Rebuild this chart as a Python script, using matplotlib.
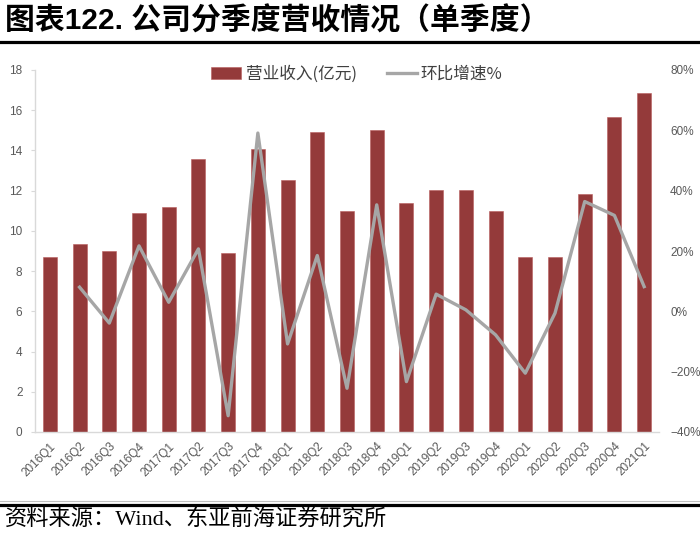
import numpy as np
import matplotlib
matplotlib.use('Agg')
import matplotlib.pyplot as plt
from matplotlib.lines import Line2D
from matplotlib.ticker import FuncFormatter

plt.rcParams['font.family'] = ['Liberation Sans', 'Noto Sans CJK SC', 'DejaVu Sans']
plt.rcParams['axes.unicode_minus'] = False

# data
quarters = ['2016Q1', '2016Q2', '2016Q3', '2016Q4',
            '2017Q1', '2017Q2', '2017Q3', '2017Q4',
            '2018Q1', '2018Q2', '2018Q3', '2018Q4',
            '2019Q1', '2019Q2', '2019Q3', '2019Q4',
            '2020Q1', '2020Q2', '2020Q3', '2020Q4', '2021Q1']
revenue = [8.72, 9.33, 9.00, 10.88, 11.20, 13.56, 8.89, 14.08,
           12.55, 14.90, 11.00, 15.00, 11.38, 12.02, 12.02, 11.00,
           8.72, 8.68, 11.82, 15.64, 16.88]
qoq = [np.nan, 8.0, -3.9, 21.7, 3.0, 20.7, -34.6, 59.1,
       -10.8, 18.5, -25.5, 35.3, -23.3, 5.7, 0.5, -7.8,
       -20.5, -0.6, 36.4, 31.8, 8.2]

bar_color = '#943a3a'
line_color = '#a6a6a6'
tick_color = '#595959'
spine_color = '#d9d9d9'

fig = plt.figure(figsize=(7, 5.33), dpi=100)
W, H = 700, 533

# title and top rule
fig.text(5 / W, 1 - 21 / H, '图表122. 公司分季度营收情况（单季度）',
         fontsize=21.5, fontweight='bold', color='black', va='center', ha='left')
fig.add_artist(Line2D([0, 1], [1 - 41.5 / H] * 2, color='black', lw=2.3))

ax = fig.add_axes([35 / W, 101 / H, 624 / W, 362 / H])
x = np.arange(len(quarters))
bars = ax.bar(x, revenue, width=0.47, color=bar_color, edgecolor='#b85c5c', lw=0.4,
              label='营业收入(亿元)', zorder=2)
ax.set_xlim(-0.5, len(quarters) - 0.5)
ax.set_ylim(0, 18)
ax.set_yticks(np.arange(0, 19, 2))
ax.set_xticks(x)
ax.set_xticklabels(quarters, rotation=45, ha='right', rotation_mode='anchor',
                   fontsize=8.5, color=tick_color)
ax.tick_params(axis='x', length=0, pad=6)
ax.tick_params(axis='y', length=3, color=spine_color, labelsize=8.5,
               labelcolor=tick_color, pad=6)
for s in ['top', 'right']:
    ax.spines[s].set_visible(False)
for s in ['left', 'bottom']:
    ax.spines[s].set_color(spine_color)
    ax.spines[s].set_linewidth(1.0)

ax2 = ax.twinx()
line, = ax2.plot(x, qoq, color=line_color, lw=2.4, label='环比增速%', zorder=3)
ax2.set_ylim(-40, 80)
ax2.set_yticks(np.arange(-40, 81, 20))
ax2.yaxis.set_major_formatter(FuncFormatter(lambda v, p: f'{v:.0f}%'.replace('-', '−')))
ax2.tick_params(axis='y', length=0, labelsize=8.5, labelcolor=tick_color, pad=8)
for s in ax2.spines.values():
    s.set_visible(False)

fig.legend(handles=[bars, line], labels=['营业收入(亿元)', '环比增速%'],
           loc='center', bbox_to_anchor=(357 / W, 1 - 74 / H), ncol=2,
           frameon=False, handlelength=1.8, handletextpad=0.25,
           columnspacing=1.8, labelcolor='#404040',
           prop={'family': ['Noto Sans CJK SC', 'DejaVu Sans'], 'size': 12})

# bottom rules and source
fig.add_artist(Line2D([0, 1], [1 - 501 / H] * 2, color='#bfbfbf', lw=0.8))
fig.add_artist(Line2D([0, 1], [1 - 504.5 / H] * 2, color='black', lw=2.3))
fig.text(5 / W, 1 - 520 / H, '资料来源：Wind、东亚前海证券研究所',
         fontsize=16, color='black', va='center', ha='left',
         family=['Liberation Serif', 'Noto Sans CJK SC', 'DejaVu Sans'])

fig.savefig('out.png', dpi=100)
